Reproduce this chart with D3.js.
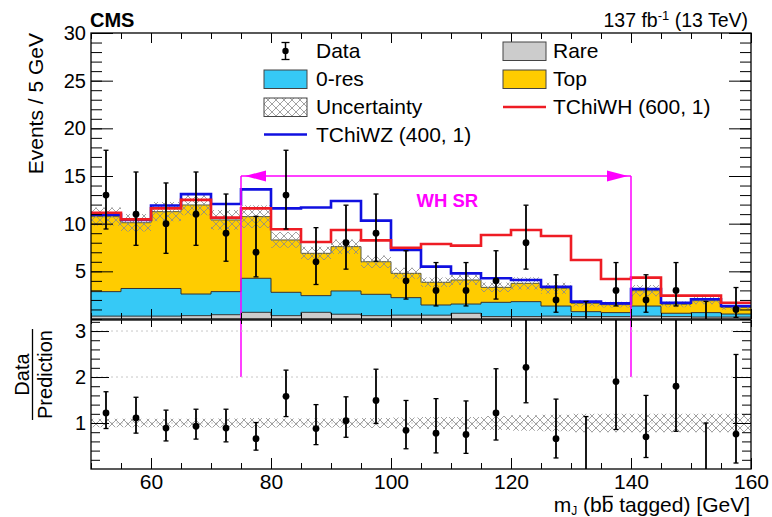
<!DOCTYPE html>
<html>
<head>
<meta charset="utf-8">
<script src="https://cdn.jsdelivr.net/npm/d3@7"></script>
<style>
  body { margin: 0; background: #fff; }
  svg { display: block; font-family: "Liberation Sans", Arial, Helvetica, sans-serif; }
</style>
</head>
<body>
<svg id="chart" width="772" height="517"></svg>
<script>
// ---- data: m_J (bb-tagged) distribution, 5 GeV bins ----
const binLow = [50, 55, 60, 65, 70, 75, 80, 85, 90, 95, 100, 105, 110, 115, 120, 125, 130, 135, 140, 145, 150, 155];
const binWidth = 5;

// stacked backgrounds (events per bin)
const rare    = [0.30, 0.30, 0.30, 0.35, 0.45, 0.70, 0.35, 0.70, 0.50, 0.35, 0.40, 0.40, 0.60, 0.25, 0.25, 0.30, 0.25, 0.25, 0.30, 0.25, 0.20, 0.20];
const zeroRes = [2.57, 2.90, 2.90, 2.27, 2.42, 3.57, 2.45, 1.75, 2.44, 2.24, 1.84, 1.07, 0.97, 1.50, 1.57, 1.06, 0.52, 0.42, 1.06, 0.35, 0.47, 0.32];
const topBkg  = [7.87, 6.90, 8.06, 9.34, 7.52, 6.47, 5.49, 4.44, 4.65, 3.42, 2.55, 2.38, 2.52, 1.57, 1.92, 1.86, 0.87, 0.83, 1.61, 0.94, 1.25, 0.70];
// relative uncertainty on the total prediction
const uncRel  = [0.09, 0.09, 0.09, 0.09, 0.10, 0.11, 0.10, 0.10, 0.10, 0.11, 0.12, 0.13, 0.13, 0.15, 0.17, 0.18, 0.20, 0.20, 0.20, 0.20, 0.20, 0.20];

// signal models, drawn stacked on top of the total background
const tchiWHStacked = [11.15, 10.45, 11.60, 12.50, 10.63, 11.60, 9.41, 8.08, 9.34, 8.25, 7.48, 7.87, 7.70, 8.81, 9.34, 8.71, 6.19, 4.20, 4.34, 2.45, 2.45, 1.71];
const tchiWZStacked = [10.95, 10.39, 11.90, 13.10, 12.07, 13.60, 11.60, 11.70, 12.38, 10.32, 7.24, 5.49, 4.79, 4.27, 4.09, 3.39, 1.82, 1.64, 3.15, 1.71, 2.07, 1.36];

// observed data with 68% CL Poisson intervals
const dataCounts = [13, 11, 10, 11, 9, 7, 13, 6, 8, 9, 4, 3, 3, 4, 8, 2, 0, 3, 2, 3, 0, 1];
const dataLow    = [9.44, 7.73, 6.89, 7.73, 6.06, 4.42, 9.44, 3.62, 5.23, 6.06, 2.09, 1.37, 1.37, 2.09, 5.23, 0.71, 0.00, 1.37, 0.71, 1.37, 0.00, 0.17];
const dataHigh   = [17.70, 15.42, 14.27, 15.42, 13.11, 10.77, 17.70, 9.58, 11.94, 13.11, 7.16, 5.92, 5.92, 7.16, 11.94, 4.64, 1.84, 5.92, 4.64, 5.92, 1.84, 3.30];

// data / prediction
const ratioVal  = [1.22, 1.11, 0.89, 0.93, 0.89, 0.66, 1.58, 0.88, 1.05, 1.49, 0.84, 0.78, 0.75, 1.22, 2.21, 0.66, 0.00, 1.90, 0.70, 1.80, 0.00, 0.76];
const ratioLow  = [0.88, 0.78, 0.61, 0.65, 0.59, 0.41, 1.14, 0.53, 0.69, 0.99, 0.44, 0.35, 0.34, 0.63, 1.44, 0.24, 0.00, 0.86, 0.25, 0.82, 0.00, 0.13];
const ratioHigh = [1.68, 1.56, 1.28, 1.30, 1.30, 1.01, 2.15, 1.40, 1.57, 2.17, 1.49, 1.53, 1.48, 2.18, 3.30, 1.52, 1.14, 3.75, 1.60, 3.54, 1.00, 2.49];

// axes
const xTickValues   = [60, 80, 100, 120, 140, 160];
const yTickValues   = [5, 10, 15, 20, 25, 30];
const ratioTickVals = [1, 2, 3];

// signal-region window
const srWindow = [75, 140];
const srLabel = "WH SR";

// ---- layout ----
const svg = d3.select("#chart");
const L = 91, R = 751, upTop = 33, upBot = 319, loTop = 320, loBot = 469;

const x  = d3.scaleLinear().domain([50, 160]).range([L, R]);
const yU = d3.scaleLinear().domain([0, 30]).range([upBot, upTop]);
const yR = d3.scaleLinear().domain([0, 3.24]).range([loBot, loTop]);

const C = {
  rare: "#cccccc", zeroRes: "#36c9f6", top: "#ffcc00",
  wh: "#ee1c24", wz: "#1010e0", sr: "#ff00ff", hatch: "#8a8a8a"
};

const defs = svg.append("defs");
const pat = defs.append("pattern").attr("id", "hatch")
  .attr("patternUnits", "userSpaceOnUse").attr("width", 8).attr("height", 8);
pat.append("path").attr("d", "M0,0 L8,8 M-2,6 L2,10 M6,-2 L10,2")
  .attr("stroke", C.hatch).attr("stroke-width", 0.8).attr("fill", "none");
pat.append("path").attr("d", "M8,0 L0,8 M-2,2 L2,-2 M6,10 L10,6")
  .attr("stroke", C.hatch).attr("stroke-width", 0.8).attr("fill", "none");

defs.append("clipPath").attr("id", "clipU").append("rect")
  .attr("x", L).attr("y", upTop).attr("width", R - L).attr("height", upBot - upTop);
defs.append("clipPath").attr("id", "clipR").append("rect")
  .attr("x", L).attr("y", loTop).attr("width", R - L).attr("height", loBot - loTop);

// bin edges (low edges plus the upper end of the last bin)
const edges = binLow.concat([binLow[binLow.length - 1] + binWidth]);
const extend = arr => arr.concat([arr[arr.length - 1]]);

// ---- upper panel ----
const gU = svg.append("g").attr("clip-path", "url(#clipU)");

const rows = binLow.map((b, i) => ({ lo: b, rare: rare[i], zeroRes: zeroRes[i], top: topBkg[i] }));
const series = d3.stack().keys(["rare", "zeroRes", "top"])(rows);

const stepArea = d3.area().curve(d3.curveStepAfter)
  .x(d => x(d.e)).y0(d => yU(d.y0)).y1(d => yU(d.y1));
const stepLineU = d3.line().curve(d3.curveStepAfter).x(d => x(d.e)).y(d => yU(d.v));

series.forEach(s => {
  const pts = edges.map((e, i) => {
    const k = Math.min(i, s.length - 1);
    return { e, y0: s[k][0], y1: s[k][1] };
  });
  gU.append("path").attr("d", stepArea(pts)).attr("fill", C[s.key]);
});
series.forEach(s => {
  const pts = edges.map((e, i) => ({ e, v: s[Math.min(i, s.length - 1)][1] }));
  gU.append("path").attr("d", stepLineU(pts)).attr("fill", "none")
    .attr("stroke", s.key === "top" ? "#5a5a3a" : "#333").attr("stroke-width", 1);
});

// uncertainty band on the total
const total = rows.map(r => r.rare + r.zeroRes + r.top);
const band = edges.map((e, i) => {
  const k = Math.min(i, total.length - 1);
  return { e, y0: total[k] * (1 - uncRel[k]), y1: total[k] * (1 + uncRel[k]) };
});
gU.append("path").attr("d", stepArea(band)).attr("fill", "url(#hatch)");

// signal lines
[[tchiWZStacked, C.wz], [tchiWHStacked, C.wh]].forEach(([vals, col]) => {
  const pts = edges.map((e, i) => ({ e, v: extend(vals)[i] }));
  gU.append("path").attr("d", stepLineU(pts)).attr("fill", "none")
    .attr("stroke", col).attr("stroke-width", 2.6);
});

// signal region markers
const srG = svg.append("g");
srG.append("line").attr("x1", x(srWindow[0])).attr("x2", x(srWindow[1]))
  .attr("y1", yU(15)).attr("y2", yU(15)).attr("stroke", C.sr).attr("stroke-width", 1.3);
srWindow.forEach(v => {
  srG.append("line").attr("x1", x(v)).attr("x2", x(v))
    .attr("y1", yU(15)).attr("y2", yR(2)).attr("stroke", C.sr).attr("stroke-width", 1.5);
});
const ay = yU(15);
const tipL = x(srWindow[0]) + 4, tipR = x(srWindow[1]) - 3;
srG.append("path").attr("d", `M${tipL},${ay} L${tipL + 21},${ay - 5.5} L${tipL + 21},${ay + 5.5} Z`).attr("fill", C.sr);
srG.append("path").attr("d", `M${tipR},${ay} L${tipR - 21},${ay - 5.5} L${tipR - 21},${ay + 5.5} Z`).attr("fill", C.sr);
srG.append("text").attr("x", x(109.4)).attr("y", yU(11.8)).attr("text-anchor", "middle")
  .attr("fill", C.sr).attr("font-weight", "bold").attr("font-size", 18.5).text(srLabel);

// data points
function drawPoints(g, yScale, vals, lo, hi, counts) {
  binLow.forEach((b, i) => {
    const cx = x(b + binWidth / 2);
    g.append("line").attr("x1", cx).attr("x2", cx)
      .attr("y1", yScale(lo[i])).attr("y2", yScale(hi[i]))
      .attr("stroke", "#000").attr("stroke-width", 1.8);
    [lo[i], hi[i]].forEach(v => {
      if (v > 0) g.append("line").attr("x1", cx - 2.5).attr("x2", cx + 2.5)
        .attr("y1", yScale(v)).attr("y2", yScale(v)).attr("stroke", "#000").attr("stroke-width", 1.3);
    });
    if (counts[i] > 0) g.append("circle").attr("cx", cx).attr("cy", yScale(vals[i])).attr("r", 3.4).attr("fill", "#000");
  });
}
drawPoints(svg.append("g").attr("clip-path", "url(#clipU)"), yU, dataCounts, dataLow, dataHigh, dataCounts);

// ---- ratio panel ----
const gR = svg.append("g").attr("clip-path", "url(#clipR)");
ratioTickVals.forEach(v => {
  gR.append("line").attr("x1", L).attr("x2", R).attr("y1", yR(v)).attr("y2", yR(v))
    .attr("stroke", "#c8c8c8").attr("stroke-width", 1).attr("stroke-dasharray", "2,3");
});
const bandR = edges.map((e, i) => {
  const k = Math.min(i, uncRel.length - 1);
  return { e, y0: 1 - uncRel[k], y1: 1 + uncRel[k] };
});
gR.append("path").attr("d", d3.area().curve(d3.curveStepAfter)
  .x(d => x(d.e)).y0(d => yR(d.y0)).y1(d => yR(d.y1))(bandR)).attr("fill", "url(#hatch)");
drawPoints(gR, yR, ratioVal, ratioLow, ratioHigh, dataCounts);

// ---- axes ----
function styleAxis(g) {
  g.select(".domain").remove();
  g.selectAll(".tick line").attr("stroke", "#000").attr("stroke-width", 1);
  g.selectAll(".tick text").attr("fill", "#000");
  return g;
}
const minorX = d3.range(50, 161, 5);
const minorY = d3.range(0, 31, 1);
const minorR = d3.range(0.2, 3.21, 0.2);

// upper panel ticks
styleAxis(svg.append("g").attr("transform", `translate(${L},0)`)
  .call(d3.axisLeft(yU).tickValues(minorY).tickSize(-11).tickFormat("")));
styleAxis(svg.append("g").attr("transform", `translate(${L},0)`)
  .call(d3.axisLeft(yU).tickValues(yTickValues).tickSize(-22).tickPadding(5).tickFormat(d3.format("d"))))
  .attr("font-size", 20).attr("font-family", null);
styleAxis(svg.append("g").attr("transform", `translate(${R},0)`)
  .call(d3.axisRight(yU).tickValues(minorY).tickSize(-11).tickFormat("")));
styleAxis(svg.append("g").attr("transform", `translate(${R},0)`)
  .call(d3.axisRight(yU).tickValues(yTickValues).tickSize(-22).tickFormat("")));
styleAxis(svg.append("g").attr("transform", `translate(0,${upTop})`)
  .call(d3.axisTop(x).tickValues(minorX).tickSize(-6).tickFormat("")));
styleAxis(svg.append("g").attr("transform", `translate(0,${upTop})`)
  .call(d3.axisTop(x).tickValues(xTickValues).tickSize(-10).tickFormat("")));
styleAxis(svg.append("g").attr("transform", `translate(0,${upBot})`)
  .call(d3.axisBottom(x).tickValues(minorX).tickSize(-6).tickFormat("")));
styleAxis(svg.append("g").attr("transform", `translate(0,${upBot})`)
  .call(d3.axisBottom(x).tickValues(xTickValues).tickSize(-10).tickFormat("")));

// ratio panel ticks
styleAxis(svg.append("g").attr("transform", `translate(${L},0)`)
  .call(d3.axisLeft(yR).tickValues(minorR).tickSize(-9).tickFormat("")));
styleAxis(svg.append("g").attr("transform", `translate(${L},0)`)
  .call(d3.axisLeft(yR).tickValues(ratioTickVals).tickSize(-18).tickPadding(5).tickFormat(d3.format("d"))))
  .attr("font-size", 20).attr("font-family", null);
styleAxis(svg.append("g").attr("transform", `translate(${R},0)`)
  .call(d3.axisRight(yR).tickValues(minorR).tickSize(-9).tickFormat("")));
styleAxis(svg.append("g").attr("transform", `translate(${R},0)`)
  .call(d3.axisRight(yR).tickValues(ratioTickVals).tickSize(-18).tickFormat("")));
styleAxis(svg.append("g").attr("transform", `translate(0,${loTop})`)
  .call(d3.axisTop(x).tickValues(minorX).tickSize(-4).tickFormat("")));
styleAxis(svg.append("g").attr("transform", `translate(0,${loTop})`)
  .call(d3.axisTop(x).tickValues(xTickValues).tickSize(-7).tickFormat("")));
styleAxis(svg.append("g").attr("transform", `translate(0,${loBot})`)
  .call(d3.axisBottom(x).tickValues(minorX).tickSize(-6).tickFormat("")));
styleAxis(svg.append("g").attr("transform", `translate(0,${loBot})`)
  .call(d3.axisBottom(x).tickValues(xTickValues).tickSize(-11).tickPadding(5).tickFormat(d3.format("d"))))
  .attr("font-size", 21).attr("font-family", null);

// frames
svg.append("rect").attr("x", L).attr("y", upTop).attr("width", R - L).attr("height", upBot - upTop)
  .attr("fill", "none").attr("stroke", "#000").attr("stroke-width", 1.3);
svg.append("rect").attr("x", L).attr("y", loTop).attr("width", R - L).attr("height", loBot - loTop)
  .attr("fill", "none").attr("stroke", "#000").attr("stroke-width", 1.3);

// ---- titles ----
svg.append("text").attr("x", 90).attr("y", 27).attr("font-weight", "bold").attr("font-size", 20).text("CMS");
const lumi = svg.append("text").attr("x", 748).attr("y", 27).attr("text-anchor", "end").attr("font-size", 19.5);
lumi.append("tspan").text("137 fb");
lumi.append("tspan").attr("dy", -7).attr("font-size", 13).text("-1");
lumi.append("tspan").attr("dy", 7).text(" (13 TeV)");

svg.append("text").attr("transform", "translate(43,33) rotate(-90)").attr("text-anchor", "end")
  .attr("font-size", 21).text("Events / 5 GeV");

// ratio axis title as a fraction
const fracY = (loTop + loBot) / 2 - 20;
svg.append("text").attr("transform", `translate(29,${fracY}) rotate(-90)`)
  .attr("text-anchor", "middle").attr("font-size", 20).text("Data");
const denT = svg.append("text").attr("transform", `translate(52,${fracY}) rotate(-90)`)
  .attr("text-anchor", "middle").attr("font-size", 20).text("Prediction");
const fracLen = denT.node().getComputedTextLength() + 2;
svg.append("line").attr("x1", 32.5).attr("x2", 32.5)
  .attr("y1", fracY - fracLen / 2).attr("y2", fracY + fracLen / 2)
  .attr("stroke", "#000").attr("stroke-width", 1.3);

// x-axis title: m_J (b b-bar tagged) [GeV]
const xt = svg.append("text").attr("x", 750).attr("y", 512).attr("text-anchor", "end").attr("font-size", 21);
xt.append("tspan").text("m");
xt.append("tspan").attr("dy", 3).attr("font-size", 12).text("J");
xt.append("tspan").attr("dy", -3).text(" (b");
xt.append("tspan").text("b");
xt.append("tspan").text(" tagged) [GeV]");
// bar over the anti-b
{
  const node = xt.node();
  const idx = node.textContent.indexOf("(b") + 2;
  const start = node.getStartPositionOfChar(idx);
  const endp = node.getEndPositionOfChar(idx);
  svg.append("line").attr("x1", start.x + 1).attr("x2", endp.x - 0.5)
    .attr("y1", 496.5).attr("y2", 496.5).attr("stroke", "#000").attr("stroke-width", 1.4);
}

// ---- legend ----
const legendCol1 = [
  { label: "Data", kind: "data" },
  { label: "0-res", kind: "box", fill: C.zeroRes },
  { label: "Uncertainty", kind: "hatch" },
  { label: "TChiWZ (400, 1)", kind: "line", color: C.wz }
];
const legendCol2 = [
  { label: "Rare", kind: "box", fill: C.rare },
  { label: "Top", kind: "box", fill: C.top },
  { label: "TChiWH (600, 1)", kind: "line", color: C.wh }
];
const rowBase = [58, 86, 114, 141.5];
function drawLegend(items, x0, tx) {
  items.forEach((it, i) => {
    const base = rowBase[i], cy = base - 7;
    const g = svg.append("g");
    if (it.kind === "box" || it.kind === "hatch") {
      g.append("rect").attr("x", x0).attr("y", cy - 9).attr("width", 43).attr("height", 18.5)
        .attr("fill", it.kind === "hatch" ? "url(#hatch)" : it.fill)
        .attr("stroke", "#444").attr("stroke-width", 1);
    } else if (it.kind === "line") {
      g.append("line").attr("x1", x0).attr("x2", x0 + 43).attr("y1", cy).attr("y2", cy)
        .attr("stroke", it.color).attr("stroke-width", 2.4);
    } else {
      const cx = x0 + 21.5;
      g.append("line").attr("x1", cx).attr("x2", cx).attr("y1", cy - 8.5).attr("y2", cy + 8.5)
        .attr("stroke", "#000").attr("stroke-width", 1.5);
      [cy - 8.5, cy + 8.5].forEach(v => g.append("line").attr("x1", cx - 4).attr("x2", cx + 4)
        .attr("y1", v).attr("y2", v).attr("stroke", "#000").attr("stroke-width", 1.3));
      g.append("circle").attr("cx", cx).attr("cy", cy).attr("r", 3.2).attr("fill", "#000");
    }
    g.append("text").attr("x", tx).attr("y", base).attr("font-size", 21).text(it.label);
  });
}
drawLegend(legendCol1, 264, 316);
drawLegend(legendCol2, 503, 553);
</script>
</body>
</html>
